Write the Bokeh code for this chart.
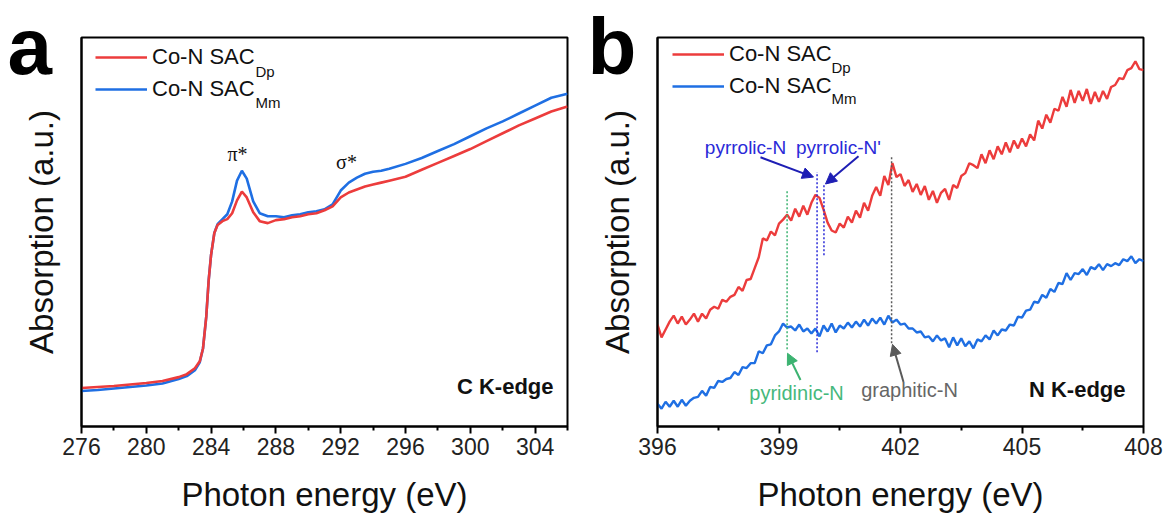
from bokeh.plotting import figure
from bokeh.layouts import row
from bokeh.models import Range1d, FixedTicker, Label, Arrow, NormalHead, Legend, LegendItem
from bokeh.embed import file_html
from bokeh.resources import INLINE

# ---------------- data: panel a (C K-edge) ----------------
c_energy = [276, 277, 278, 279, 280, 281, 282, 282.5, 283, 283.3, 283.5, 283.7, 283.85,
            284.0, 284.2, 284.4, 284.7, 285.0, 285.3, 285.6, 285.9, 286.2, 286.6, 287.0,
            287.5, 288, 288.5, 289, 289.5, 290, 290.5, 291, 291.5, 292, 292.5, 293, 293.5,
            294, 294.5, 295, 296, 297, 298, 299, 300, 301, 302, 303, 304, 305, 306]
c_dp = [39, 40, 41, 42.5, 44, 46, 50, 53, 59, 66, 79, 111, 148,
        174, 196, 204, 208, 210, 216, 229, 238, 232, 217, 208,
        206, 209, 210, 212, 213, 215, 216, 219, 223, 232, 237, 240, 243,
        245, 247, 249, 253, 260, 267, 274, 281, 289, 297, 305, 312, 319, 324]
c_mm = [36, 37, 38.5, 40, 41.5, 43.5, 48, 51, 57, 65, 79, 111, 148,
        174, 196, 205, 210, 215, 228, 249, 259, 251, 228, 216,
        213, 213, 212, 214, 215, 217, 218, 220, 225, 239, 247, 252, 256,
        258, 259, 261, 266, 272, 279, 286, 294, 302, 309, 317, 325, 333, 337]
c_ticks = [276, 280, 284, 288, 292, 296, 300, 304]
c_minor = [278, 282, 286, 290, 294, 298, 302, 306]

# ---------------- data: panel b (N K-edge) ----------------
n_energy = [round(396 + 0.1 * i, 1) for i in range(121)]
n_dp = [103, 90, 98, 106, 112, 104, 111, 103, 108, 114,
        106, 114, 109, 118, 121, 119, 128, 126, 131, 133,
        141, 137, 148, 149, 160, 171, 190, 188, 197, 193,
        205, 209, 214, 208, 220, 212, 223, 214, 226, 234,
        231, 219, 206, 198, 196, 205, 201, 212, 206, 218,
        211, 226, 218, 233, 242, 233, 253, 244, 266, 252,
        255, 243, 249, 237, 245, 234, 243, 229, 238, 226,
        236, 240, 229, 244, 241, 253, 256, 266, 264, 261,
        275, 266, 279, 270, 283, 275, 287, 277, 289, 281,
        291, 283, 295, 289, 309, 301, 315, 307, 321, 319,
        333, 323, 340, 327, 339, 329, 341, 326, 338, 328,
        339, 331, 343, 345, 352, 351, 360, 362, 369, 361,
        360]
n_mm = [23, 18, 25, 20, 26, 20, 27, 21, 26, 29,
        30, 36, 31, 40, 39, 46, 45, 48, 49, 55,
        52, 60, 59, 64, 64, 76, 74, 82, 83, 92,
        96, 104, 100, 101, 97, 103, 96, 99, 94, 99,
        91, 102, 96, 104, 95, 102, 99, 105, 100, 106,
        101, 108, 102, 109, 104, 110, 103, 112, 105, 108,
        103, 104, 99, 99, 95, 96, 90, 91, 86, 92,
        87, 89, 80, 90, 82, 89, 81, 86, 79, 88,
        86, 92, 88, 97, 92, 98, 97, 103, 102, 111,
        110, 117, 118, 126, 125, 133, 130, 139, 136, 145,
        144, 155, 148, 155, 154, 159, 153, 161, 159, 164,
        158, 164, 162, 165, 163, 169, 167, 172, 165, 169,
        167]
n_ticks = [396, 399, 402, 405, 408]
n_minor = [397.5, 400.5, 403.5, 406.5]
n_peaks = [399.2, 399.94, 400.11, 401.78]   # pyridinic, pyrrolic, pyrrolic', graphitic
n_peak_names = ["pyridinic-N", "pyrrolic-N", "pyrrolic-N'", "graphitic-N"]

RED = "#ec3c3c"
BLUE = "#1f6fe3"
SANS = "Liberation Sans"

# pixel -> data helpers (annotation placement only)
def ax_(px): return 276 + (px - 81) / 16.2
def ay_(py): return 431 - py
def bx_(px): return 396 + (px - 657) / 40.5
def by_(py): return 430 - py


def make_fig(width, xr, yr, bl, br, bb, ticks, minor, letter, letter_offset):
    p = figure(width=width, height=515, x_range=Range1d(*xr), y_range=Range1d(*yr),
               output_backend="svg", toolbar_location=None,
               min_border_left=bl, min_border_right=br, min_border_top=37,
               min_border_bottom=bb)
    p.xgrid.visible = False
    p.ygrid.visible = False
    p.outline_line_color = "black"
    p.outline_line_width = 2
    p.outline_line_alpha = 1
    p.background_fill_color = "white"
    p.border_fill_color = "white"
    # panel letter drawn as the plot title (side panels are not clipped)
    t = p.title
    t.text = letter
    t.text_font = SANS
    t.text_font_size = "80px"
    t.text_font_style = "bold"
    t.text_color = "#000000"
    t.align = "left"
    t.vertical_align = "bottom"
    t.offset = letter_offset
    try:
        t.standoff = -106
    except Exception:
        t.standoff = 0
    xa = p.xaxis[0]
    xa.ticker = FixedTicker(ticks=ticks, minor_ticks=minor)
    xa.axis_line_width = 2
    xa.major_tick_in = 0
    xa.major_tick_out = 7
    xa.minor_tick_in = 0
    xa.minor_tick_out = 4
    xa.major_tick_line_width = 2
    xa.minor_tick_line_width = 2
    xa.major_label_text_font = SANS
    xa.major_label_text_font_size = "23px"
    xa.major_label_text_color = "#222222"
    xa.major_label_standoff = 4
    xa.axis_label = "Photon energy (eV)"
    xa.axis_label_text_font = SANS
    xa.axis_label_text_font_size = "33px"
    xa.axis_label_text_font_style = "normal"
    xa.axis_label_text_color = "#111111"
    xa.axis_label_standoff = 18
    ya = p.yaxis[0]
    ya.ticker = FixedTicker(ticks=[])
    ya.axis_line_width = 2
    ya.major_tick_out = 0
    ya.major_tick_in = 0
    ya.minor_tick_out = 0
    ya.major_label_standoff = 0
    ya.axis_label = "Absorption (a.u.)"
    ya.axis_label_text_font = SANS
    ya.axis_label_text_font_size = "33px"
    ya.axis_label_text_font_style = "normal"
    ya.axis_label_text_color = "#111111"
    ya.axis_label_standoff = 22
    return p


def add_legend(p, r1, r2, loc):
    leg = Legend(items=[LegendItem(label="Co-N SAC", renderers=[r1]),
                        LegendItem(label="Co-N SAC", renderers=[r2])],
                 location=loc, orientation="vertical", glyph_width=52, glyph_height=30,
                 label_height=30, spacing=2, padding=0, margin=0, label_standoff=5,
                 label_text_font=SANS, label_text_font_size="22px",
                 label_text_color="#111111",
                 border_line_color=None, background_fill_alpha=0)
    p.add_layout(leg)


def lab(p, x, y, text, size, color="#111111", font=SANS, style="normal",
        align="center", baseline="middle"):
    p.add_layout(Label(x=x, y=y, text=text, text_font=font, text_font_size=size,
                       text_color=color, text_font_style=style, text_align=align,
                       text_baseline=baseline))


def arrow(p, x0, y0, x1, y1, color):
    p.add_layout(Arrow(end=NormalHead(size=11, fill_color=color, line_color=color),
                       x_start=x0, y_start=y0, x_end=x1, y_end=y1,
                       line_color=color, line_width=2))


# ---------------- panel a ----------------
fa = make_fig(580, (276, 306), (0, 394), 81, 13, 84, c_ticks, c_minor, "a", 7 - 81)
r_a_mm = fa.line(c_energy, c_mm, line_color=BLUE, line_width=2.6)
r_a_dp = fa.line(c_energy, c_dp, line_color=RED, line_width=2.6)
add_legend(fa, r_a_dp, r_a_mm, (14, 322))
lab(fa, ax_(255), ay_(71), "Dp", "15px", align="left")
lab(fa, ax_(255), ay_(103), "Mm", "15px", align="left")
lab(fa, ax_(237), ay_(155), "π*", "20px", font="Liberation Serif")
lab(fa, ax_(346), ay_(163), "σ*", "20px", font="Liberation Serif")
lab(fa, ax_(553), ay_(390), "C K-edge", "22px", style="bold", align="right")

# ---------------- panel b ----------------
fb = make_fig(586, (396, 408), (0, 393), 77, 23, 85, n_ticks, n_minor, "b", 587 - 657)
r_b_dp = fb.line(n_energy, n_dp, line_color=RED, line_width=2.4)
r_b_mm = fb.line(n_energy, n_mm, line_color=BLUE, line_width=2.4)
add_legend(fb, r_b_dp, r_b_mm, (15, 325))
lab(fb, bx_(831), by_(67), "Dp", "15px", align="left")
lab(fb, bx_(831), by_(99), "Mm", "15px", align="left")

GREEN = "#3cb371"
DBLUE = "#2a2ad8"
GRAY = "#5a5a5a"
peak_cols = [GREEN, DBLUE, DBLUE, GRAY]
peak_top = [192, 173, 185, 157]
peak_bot = [352, 355, 257, 346]
fb.segment(x0=n_peaks, y0=[by_(v) for v in peak_bot], x1=n_peaks,
           y1=[by_(v) for v in peak_top], line_color=peak_cols, line_width=1.5,
           line_dash="2 2")

lab(fb, bx_(745), by_(148), n_peak_names[1], "19px", color=DBLUE)
lab(fb, bx_(838), by_(148), n_peak_names[2], "19px", color=DBLUE)
arrow(fb, bx_(760), by_(158), bx_(813), by_(178), "#1e1eb4")
arrow(fb, bx_(858), by_(157), bx_(825), by_(185), "#1e1eb4")
arrow(fb, bx_(800), by_(383), bx_(787), by_(356), GREEN)
arrow(fb, bx_(903), by_(385), bx_(892), by_(347), GRAY)
lab(fb, bx_(796), by_(396), n_peak_names[0], "20px", color="#45b87c")
lab(fb, bx_(909), by_(393), n_peak_names[3], "20px", color="#666666")
lab(fb, bx_(1125), by_(393), "N K-edge", "22px", style="bold", align="right")

layout = row(fa, fb)
open("out.html", "w").write(file_html(layout, INLINE))
